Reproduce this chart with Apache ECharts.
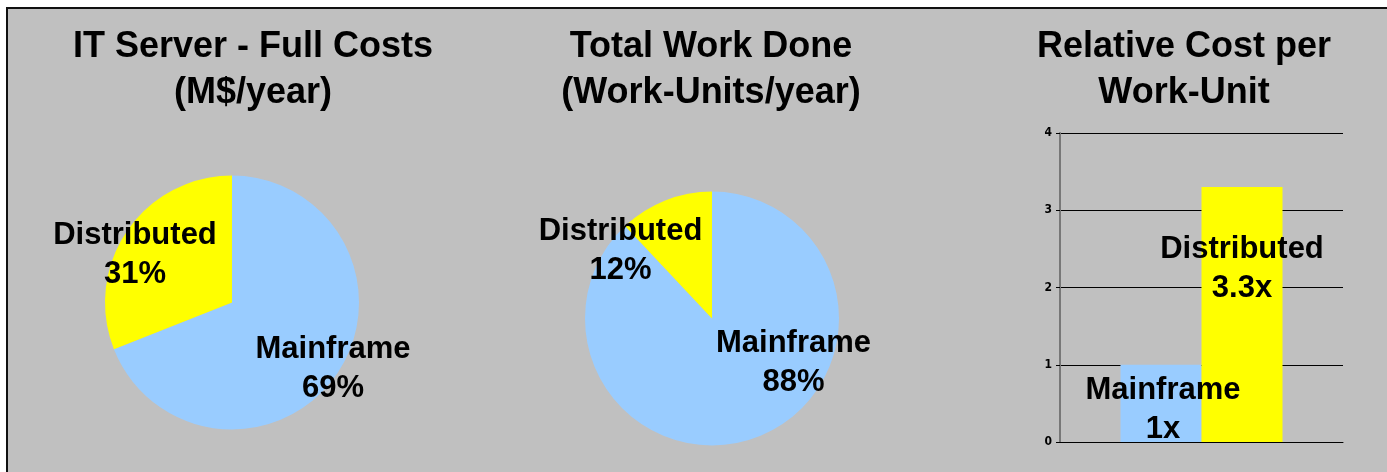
<!DOCTYPE html>
<html>
<head>
<meta charset="utf-8">
<script src="https://cdn.jsdelivr.net/npm/echarts@6/dist/echarts.min.js"></script>
<style>
    html, body { margin: 0; padding: 0; background: #fff; }
    #frame { position: absolute; left: 6px; top: 7px; right: 0; bottom: 0; border-left: 2px solid #111; border-top: 2px solid #111; background: #c0c0c0; }
    #graph { position: absolute; left: 0; top: 0; width: 1387px; height: 472px; }
</style>
</head>
<body>
<div id="frame"></div>
<div id="graph"></div>
<script>
"use strict"

const costNames = ["Mainframe", "Distributed"];
const costShare = [69, 31];
const workNames = ["Mainframe", "Distributed"];
const workShare = [88, 12];
const unitNames = ["Mainframe", "Distributed"];
const unitCost = [1, 3.3];
const yTicks = [0, 1, 2, 3, 4];

const titles = ["IT Server - Full Costs\n(M$/year)", "Total Work Done\n(Work-Units/year)", "Relative Cost per\nWork-Unit"];

const BLUE = "#99ccff", YELLOW = "#ffff00";
const fam = "'Liberation Sans', Arial, sans-serif";
const labelFont = { fontFamily: fam, fontWeight: "bold", fontSize: 31, lineHeight: 39, color: "#000" };

function makeTitle(text, x)
{
    return {
        text: text,
        left: x,
        top: 24,
        textAlign: "center",
        padding: 0,
        textStyle: { fontFamily: fam, fontWeight: "bold", fontSize: 36, lineHeight: 46, color: "#000" }
    };
}

function makePie(names, values, center, offsets)
{
    return {
        type: "pie",
        center: center,
        radius: 127,
        startAngle: 90,
        clockwise: true,
        avoidLabelOverlap: false,
        silent: true,
        labelLine: { show: false },
        emphasis: { disabled: true },
        itemStyle: { borderWidth: 0 },
        label: Object.assign({ show: true, position: "inside", formatter: "{b}\n{c}%" }, labelFont),
        data: names.map((n, i) => ({
            name: n,
            value: values[i],
            itemStyle: { color: i == 0 ? BLUE : YELLOW },
            label: { offset: offsets[i] }
        }))
    };
}

const myChart = echarts.init(document.getElementById("graph"), null, { renderer: "canvas" });

const option = {
    backgroundColor: "transparent",
    animation: false,
    title: [makeTitle(titles[0], 253), makeTitle(titles[1], 711), makeTitle(titles[2], 1184)],
    grid: { left: 1060, right: 44, top: 133, bottom: 30 },
    xAxis: {
        type: "category",
        data: ["Cost"],
        axisLine: { show: true, lineStyle: { color: "#000", width: 1 } },
        axisTick: { show: false },
        axisLabel: { show: false }
    },
    yAxis: {
        type: "value",
        min: yTicks[0],
        max: yTicks[yTicks.length - 1],
        interval: 1,
        axisLine: { show: true, lineStyle: { color: "#777", width: 2 } },
        axisTick: { show: true, length: 4, lineStyle: { color: "#000" } },
        axisLabel: { margin: 8, fontFamily: "'Liberation Sans Narrow', 'DejaVu Sans Condensed', sans-serif", fontWeight: "bold", fontSize: 12, color: "#000" },
        splitLine: { show: true, lineStyle: { color: "#000", width: 1 } }
    },
    series: [
        makePie(costNames, costShare, [232, 302.5], [[46, 29], [-42, -10]]),
        makePie(workNames, workShare, [712, 318.5], [[57, -17], [-67, -6]]),
        {
            type: "bar",
            name: unitNames[0],
            data: [unitCost[0]],
            barWidth: 81,
            barGap: "0%",
            silent: true,
            itemStyle: { color: BLUE },
            label: Object.assign({ show: true, position: "inside", formatter: "{a}\n{c}x", offset: [2, 7] }, labelFont)
        },
        {
            type: "bar",
            name: unitNames[1],
            data: [unitCost[1]],
            barWidth: 81,
            barGap: "0%",
            silent: true,
            itemStyle: { color: YELLOW },
            label: Object.assign({ show: true, position: "inside", formatter: "{a}\n{c}x", offset: [0, -46] }, labelFont)
        }
    ]
};
myChart.setOption(option);
</script>
</body>
</html>
